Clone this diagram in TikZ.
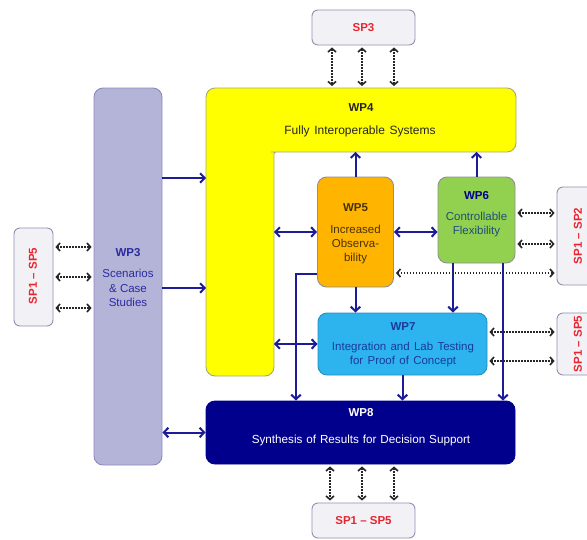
\documentclass[tikz,border=0pt]{standalone}
\usepackage{fontspec}
\setmainfont{Liberation Sans}
\usetikzlibrary{arrows.meta}
\definecolor{arrowblue}{HTML}{1C1C99}
\definecolor{wpthreefill}{HTML}{B4B4D8}
\definecolor{wpthreeline}{HTML}{8C8CC0}
\definecolor{wpthreetext}{HTML}{2B2BA0}
\definecolor{yellowfill}{HTML}{FFFF00}
\definecolor{yellowline}{HTML}{A8A878}
\definecolor{orangefill}{HTML}{FFB400}
\definecolor{orangetext}{HTML}{4A3200}
\definecolor{greenfill}{HTML}{92D050}
\definecolor{greentext}{HTML}{1F4E79}
\definecolor{bluefill}{HTML}{2DB4EE}
\definecolor{bluetext}{HTML}{1A3A9C}
\definecolor{navyfill}{HTML}{00008C}
\definecolor{spfill}{HTML}{F2F2F6}
\definecolor{spline}{HTML}{9090B4}
\definecolor{sptext}{HTML}{E8252E}
\definecolor{boxline}{HTML}{909090}
\tikzset{
  wpbox/.style={draw=boxline, line width=0.9pt, rounded corners=9pt, inner sep=0pt},
  spbox/.style={draw=spline, fill=spfill, line width=0.9pt, rounded corners=6pt, inner sep=0pt},
  txt/.style={font=\fontsize{11.5}{14.2}\selectfont, align=center, inner sep=0pt},
  ttl/.style={font=\fontsize{11.5}{14.2}\selectfont\bfseries, inner sep=0pt},
  sptxt/.style={font=\fontsize{11.5}{14.2}\selectfont\bfseries, text=sptext, inner sep=0pt},
  ba/.style={draw=arrowblue, line width=2pt, -{Straight Barb[length=4.5pt,width=9.5pt]}},
  bab/.style={draw=arrowblue, line width=2pt, {Straight Barb[length=4.5pt,width=9.5pt]}-{Straight Barb[length=4.5pt,width=9.5pt]}},
  dx/.style={draw=black!85, line width=1.7pt, dash pattern=on 1.5pt off 1.5pt, shorten >=2pt, shorten <=2pt,
    {Straight Barb[length=3.5pt,width=8pt,line width=1.6pt]}-{Straight Barb[length=3.5pt,width=8pt,line width=1.6pt]}}
}
\begin{document}
\begin{tikzpicture}[x=1pt,y=-1pt]
\clip (0,0) rectangle (587,539);
\useasboundingbox (0,0) rectangle (587,539);
\fill[white] (0,0) rectangle (587,539);

% WP4 L-shape
\draw[draw=yellowline, fill=yellowfill, line width=0.9pt, rounded corners=9pt]
  (206,88) -- (516,88) -- (516,152) -- (280,152) [rounded corners=2pt] -- (274,152) -- (274,160) [rounded corners=9pt] -- (274,376) -- (206,376) -- cycle;
\coordinate (w4top) at (206,88);
\coordinate (w4in) at (274,152);
\coordinate (w4a) at (206,178);
\coordinate (w4b) at (206,288);
\node[ttl, text=black!85] (t4a) at (361,108) {WP4};
\node[txt, text=black!85, font=\fontsize{12}{14}\selectfont] (t4b) at (360,131) {\spaceskip=4.6pt\relax Fully Interoperable Systems};

% boxes
\node[wpbox, draw=wpthreeline, fill=wpthreefill, minimum width=68pt, minimum height=377pt] (wp3) at (128,276.5) {};
\node[wpbox, fill=orangefill, minimum width=76pt, minimum height=110pt] (wp5) at (355.5,232) {};
\node[wpbox, fill=greenfill, minimum width=77pt, minimum height=86pt] (wp6) at (476.5,220) {};
\node[wpbox, draw=bluefill!80!black, fill=bluefill, minimum width=169pt, minimum height=62pt] (wp7) at (402.5,344) {};
\node[wpbox, draw=navyfill, fill=navyfill, minimum width=309pt, minimum height=63pt] (wp8) at (360.5,432.5) {};

\node[spbox, minimum width=103pt, minimum height=35pt] (sp3) at (363.5,27.5) {};
\node[spbox, minimum width=103pt, minimum height=35pt] (spb) at (363.5,520.5) {};
\node[spbox, minimum width=39pt, minimum height=98pt] (spl) at (33.5,277) {};
\node[spbox, minimum width=43pt, minimum height=98pt] (spr1) at (578.5,236) {};
\node[spbox, minimum width=43pt, minimum height=62pt] (spr2) at (578.5,344) {};

% texts
\node[ttl, text=wpthreetext] (t3a) at (128,253) {WP3};
\node[txt, text=wpthreetext] (t3b) at (128,288) {Scenarios\\\& Case\\Studies};
\node[ttl, text=orangetext] (t5a) at (355.5,208) {WP5};
\node[txt, text=orangetext] (t5b) at (355.5,244.5) {Increased\\Observa-\\bility};
\node[ttl, text=navyfill] (t6a) at (476.5,196) {WP6};
\node[txt, text=greentext] (t6b) at (476.5,224.5) {Controllable\\Flexibility};
\node[ttl, text=bluetext] (t7a) at (403,327) {WP7};
\node[txt, text=bluetext, font=\fontsize{11.5}{13.5}\selectfont] (t7b) at (403,354.5) {\spaceskip=4.3pt\relax Integration and Lab Testing\\\spaceskip=4.3pt\relax for Proof of Concept};
\node[ttl, text=white] (t8a) at (361,413) {WP8};
\node[txt, text=white, font=\fontsize{11.7}{14}\selectfont] (t8b) at (361,440) {\spaceskip=3.9pt\relax Synthesis of Results for Decision Support};

\node[sptxt] (s3) at (363.5,28) {SP3};
\node[sptxt] (sb) at (363.5,521) {SP1 – SP5};
\node[sptxt, rotate=90] (sl) at (33,276) {SP1 – SP5};
\node[sptxt, rotate=90] (sr1) at (578,236) {SP1 – SP2};
\node[sptxt, rotate=90] (sr2) at (578,344) {SP1 – SP5};

% blue connectors
\draw[ba] (wp3.east |- w4a) -- (w4a);
\draw[ba] (wp3.east |- w4b) -- (w4b);
\draw[bab] (wp3.east |- wp8.west) -- (wp8.west);
\draw[ba] (wp5.north) -- (wp5.north |- w4in);
\draw[ba] (wp6.north) -- (wp6.north |- w4in);
\draw[bab] (w4in |- wp5.west) -- (wp5.west);
\draw[bab] (wp5.east) -- (wp5.east -| wp6.west);
\draw[bab] (w4in |- wp7.west) -- (wp7.west);
\draw[ba] (wp5.south) -- (wp5.south |- wp7.north);
\coordinate (s6a) at (453,263);
\coordinate (s6b) at (503,263);
\draw[ba] (s6a) -- (s6a |- wp7.north);
\draw[ba] (s6b) -- (s6b |- wp8.north);
\coordinate (j5) at (296,274);
\draw[ba] (wp5.west |- j5) -- (j5) -- (j5 |- wp8.north);
\draw[ba] (wp7.south) -- (wp7.south |- wp8.north);

% dotted connectors
\foreach \x in {332,362,394} \draw[dx] (\x,0 |- sp3.south) -- (\x,0 |- w4top);
\foreach \x in {330,362,394} \draw[dx] (\x,0 |- wp8.south) -- (\x,0 |- spb.north);
\foreach \y in {247,277,308} \draw[dx] (spl.east |- 0,\y) -- (wp3.west |- 0,\y);
\foreach \y in {213,244} \draw[dx] (wp6.east |- 0,\y) -- (spr1.west |- 0,\y);
\draw[dx] (wp5.east |- 0,273) -- (spr1.west |- 0,273);
\foreach \y in {332,361} \draw[dx] (wp7.east |- 0,\y) -- (spr2.west |- 0,\y);
\end{tikzpicture}
\end{document}
